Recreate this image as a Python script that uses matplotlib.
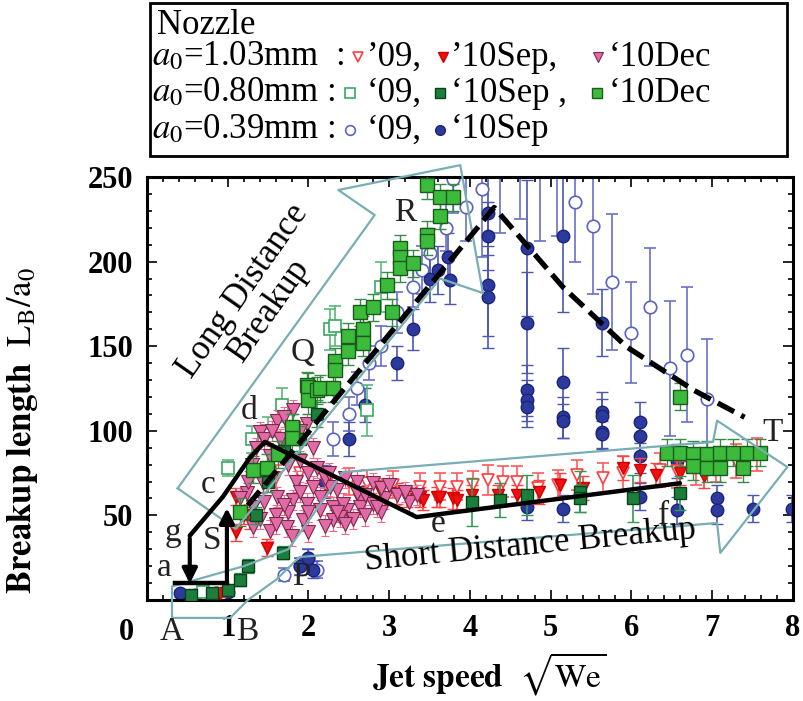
import numpy as np
import matplotlib
matplotlib.use("Agg")
import matplotlib.pyplot as plt
from matplotlib.ticker import MultipleLocator
from matplotlib.patches import Rectangle

plt.rcParams['font.family'] = ['Liberation Serif', 'DejaVu Serif']
plt.rcParams['mathtext.fontset'] = 'stix'

# ---- data (x = sqrt(We), y = L_B/a_0) ----
# a0=1.03mm '09 (open red down triangles)
x_103_09 = [1.6, 1.9, 2.23, 2.5, 2.72, 3.05, 3.38, 3.63, 3.84, 4.04, 4.22, 4.41, 4.58, 4.84,
            5.09, 5.32, 5.65, 5.9, 6.35, 6.56, 6.8, 7.05, 7.3, 7.55]
y_103_09 = [72, 75, 69, 70, 69, 68, 67, 67, 67, 68, 71, 70, 70, 66,
            68, 74, 72, 75, 77, 76, 78, 80, 82, 86]
e_103_09 = [8, 8, 8, 8, 8, 8, 8, 8, 8, 8, 9, 9, 9, 9,
            9, 9, 9, 10, 10, 10, 10, 10, 10, 10]

# a0=1.03mm '10Sep (red filled down triangles)
x_103_sep = [0.9, 1.1, 1.2, 1.28, 1.1, 1.49, 2.89, 3.1, 3.22, 3.38, 3.42, 3.59, 3.63, 3.79,
             3.84, 4.02, 4.35, 4.58, 4.85, 5.11, 5.4, 5.9, 6.1, 6.3, 6.6, 6.9]
y_103_sep = [4, 40, 50, 47, 61, 31, 65, 63, 61, 61, 59, 61, 61, 60,
             59, 62, 62, 62, 64, 68, 66, 78, 77, 74, 75, 73]
e_103_sep = [2, 5, 5, 5, 5, 5, 6, 6, 6, 6, 6, 6, 6, 6,
             6, 6, 6, 6, 7, 7, 7, 7, 7, 7, 7, 7]

# a0=1.03mm '10Dec (pink down triangles)
x_103_dec = [1.4, 1.61, 1.81, 1.98, 1.52, 1.7, 1.44, 1.61, 1.81, 1.98, 2.14, 2.3, 2.48, 2.64,
             2.8, 2.14, 2.35, 2.6, 2.8, 1.31, 1.31, 1.52, 1.73, 1.93, 2.3, 2.55, 1.24, 1.15,
             2.27, 2.43, 2.64, 2.39, 2.0, 1.85, 2.2, 2.95, 3.1, 3.25, 1.6, 1.75, 1.5, 1.3,
             1.9, 2.05, 2.7, 1.35, 1.65,
             1.45, 1.55, 1.7, 1.9, 2.05, 1.75, 1.55, 1.9, 2.1, 2.25, 2.45, 2.6, 2.9, 3.0,
             3.2, 3.35, 1.4, 1.6, 1.8, 2.0, 2.2, 2.45, 2.7, 2.9, 1.25, 1.45, 1.7, 2.0,
             2.35, 2.85]
y_103_dec = [99, 106, 112, 104, 85, 90, 69, 61, 59, 57, 53, 55, 53, 59,
             57, 61, 65, 63, 69, 55, 43, 41, 43, 47, 47, 48, 63, 60,
             67, 57, 55, 49, 75, 70, 72, 60, 62, 58, 50, 52, 75, 80,
             64, 67, 62, 90, 95,
             95, 100, 108, 100, 90, 80, 72, 82, 78, 75, 72, 70, 66, 68,
             64, 62, 48, 45, 38, 40, 44, 45, 50, 52, 70, 58, 56, 52,
             52, 55]

# a0=0.80mm '09 (open green squares)
x_080_09 = [0.7, 1.0, 1.3, 1.5, 1.67, 2.27, 2.33, 2.72, 2.9]
y_080_09 = [5, 78, 95, 100, 115, 160, 162, 112, 185]
e_080_09 = [3, 5, 8, 8, 10, 12, 12, 15, 15]

# a0=0.80mm '10Sep (dark green squares)
x_080_sep = [0.55, 0.8, 1.0, 1.15, 1.25, 1.35, 1.5, 1.68, 1.7, 1.81, 1.9, 2.1,
             4.02, 4.37, 4.71, 5.36, 5.36, 6.02, 6.6]
y_080_sep = [3, 4, 6, 12, 20, 50, 70, 28, 88, 102, 95, 110,
             58, 59, 62, 64, 60, 60, 63]
e_080_sep = [2, 2, 3, 4, 4, 5, 6, 4, 6, 8, 8, 8,
             14, 10, 12, 12, 8, 14, 10]

# a0=0.80mm '10Dec (light green squares)
x_080_dec = [1.15, 1.31, 1.49, 1.62, 1.8, 1.8, 1.98, 1.99, 1.99, 2.1, 2.14, 2.3, 2.33, 2.33,
             2.49, 2.49, 2.64, 2.67, 2.67, 2.8, 2.97, 3.03, 3.13, 3.13, 3.13, 3.29, 3.47, 3.47,
             3.47, 3.63, 3.63, 3.79, 6.44, 6.6, 6.76, 6.93, 7.1, 7.26, 7.43, 7.59, 6.76, 6.93,
             7.1, 7.38, 6.6]
y_080_dec = [52, 77, 78, 86, 102, 96, 127, 126, 118, 124, 125, 125, 141, 136,
             156, 147, 170, 160, 152, 173, 186, 170, 208, 203, 196, 199, 245, 216,
             212, 238, 227, 238, 87, 87, 86, 86, 87, 87, 87, 87, 79, 78,
             78, 78, 120]

# a0=0.39mm '09 (open blue circles)
x_039_09 = [1.7, 1.9, 2.0, 2.1, 2.3, 2.5, 2.6, 2.75, 2.9, 3.1, 3.3, 3.4, 3.5, 3.7,
            3.79, 3.95, 4.15, 4.37, 4.62, 4.87, 5.08, 5.3, 5.52, 5.76, 6.0, 6.23, 6.48, 6.69, 6.93]
y_039_09 = [15, 20, 25, 18, 95, 110, 125, 140, 150, 170, 185, 195, 205, 220,
            249, 232, 243, 262, 265, 262, 270, 235, 221, 188, 158, 173, 137, 145, 119]
e_039_09 = [4, 5, 5, 5, 10, 10, 10, 10, 12, 12, 12, 14, 14, 14,
            20, 20, 40, 45, 40, 50, 55, 35, 40, 40, 30, 35, 40, 40, 35]

# a0=0.39mm '10Sep (blue filled circles)
x_039_sep = [0.41, 0.6, 0.85, 1.0, 1.9, 2.0, 2.05, 2.2, 2.5, 2.7, 3.1, 3.3, 3.5, 3.6,
             3.73, 3.75, 4.22, 4.22, 4.22, 4.22, 4.71, 4.71, 4.71, 4.71, 4.71, 4.71,
             5.15, 5.15, 5.15, 5.15, 5.15, 5.64, 5.64, 5.64, 5.64, 5.64,
             6.1, 6.1, 6.1, 6.1, 6.56, 6.56, 7.06, 7.06, 7.5, 7.99]
y_039_sep = [4, 3, 4, 5, 20, 25, 18, 70, 95, 115, 140, 160, 190, 195,
             203, 189, 229, 215, 186, 179, 208, 164, 124, 118, 114, 55,
             215, 129, 108, 106, 54, 164, 111, 99, 109, 98,
             105, 97, 61, 85, 53, 82, 60, 53, 54, 54]
e_039_sep = [2, 2, 2, 2, 5, 5, 5, 10, 10, 10, 10, 12, 14, 14,
             14, 14, 25, 20, 30, 30, 40, 30, 15, 12, 12, 8,
             45, 20, 12, 10, 8, 20, 12, 10, 10, 8,
             12, 10, 8, 10, 8, 10, 8, 8, 8, 8]

# guide lines (black) and regime arrows (teal outline)
path_x = [0.53, 0.94, 1.28, 1.46, 3.34, 6.6]
path_y = [38, 61, 84.5, 93.4, 49, 69]
dash_x = [1.25, 4.3, 5.15, 5.94, 6.77, 7.4]
dash_y = [56, 232, 185, 149.6, 124, 108]
long_x = [0.38, 2.82, 2.37, 3.88, 4.16, 3.63, 1.1, 0.38]
long_y = [66, 227.5, 242.3, 257, 181.4, 190, 42, 66]
short_x = [2.43, 7.01, 7.06, 7.93, 7.1, 7.06, 1.89, 1.6, 1.25, 1.03, 0.31, 0.31, 1.2, 1.75, 2.43]
short_y = [75.6, 93.4, 106, 78.6, 27.8, 45.5, 25.4, 12, 0, -10.6, -10.6, 8, 20, 30, 75.6]

fig = plt.figure(figsize=(8.04, 7.01), dpi=100)
ax = fig.add_axes([0.1828, 0.1441, 0.8035, 0.6034])

teal = '#78aeb4'
cap = 4

ax.errorbar(x_039_09, y_039_09, yerr=e_039_09, fmt='o', ms=9, mfc='white', mec='#5b62c4',
            mew=1.2, ecolor='#6a70c8', elinewidth=1.2, capsize=cap, zorder=2)
ax.errorbar(x_039_sep, y_039_sep, yerr=e_039_sep, fmt='o', ms=9, mfc='#2c3a9e', mec='#1c2478',
            ecolor='#4a56b0', elinewidth=1.2, capsize=cap, zorder=2)
ax.errorbar(x_080_09, y_080_09, yerr=e_080_09, fmt='s', ms=9, mfc='white', mec='#3aa860',
            mew=1.2, ecolor='#5bb879', elinewidth=1.2, capsize=cap, zorder=3)
ax.errorbar(x_103_09, y_103_09, yerr=e_103_09, fmt='v', ms=9, mfc='white', mec='#ff3d3d',
            mew=1.2, ecolor='#ff5a5a', elinewidth=1.2, capsize=cap, zorder=3)
ax.errorbar(x_103_sep, y_103_sep, yerr=e_103_sep, fmt='v', ms=9, mfc='#f01010', mec='#d00000',
            ecolor='#ff4040', elinewidth=1.2, capsize=cap, zorder=3)
ax.errorbar(x_103_dec, y_103_dec, yerr=6, fmt='v', ms=10, mfc='#e26aa6', mec='#7a2a4a', mew=0.8,
            ecolor='#f06a8a', elinewidth=0.9, capsize=3, zorder=4)
ax.errorbar(x_080_sep, y_080_sep, yerr=e_080_sep, fmt='s', ms=9, mfc='#1b7f3b', mec='#0c3f1c',
            ecolor='#2e9a55', elinewidth=1.2, capsize=cap, zorder=5)
ax.errorbar(x_080_dec, y_080_dec, yerr=8, fmt='s', ms=10, mfc='#3cba3c', mec='#1a5a1a',
            ecolor='#3a8a4a', elinewidth=1.0, capsize=cap, zorder=5)

# regime arrows
ax.plot(long_x, long_y, color=teal, lw=1.6, clip_on=False, zorder=6)
ax.plot(short_x, short_y, color=teal, lw=1.6, clip_on=False, zorder=6)

# transition paths
ax.plot(path_x, path_y, color='black', lw=3.2, solid_capstyle='round', zorder=7)
ax.plot(dash_x, dash_y, color='black', lw=3.8, dashes=(3.5, 1.5), zorder=7)
ax.plot([0.35, 0.99], [10, 10], color='black', lw=3.2, zorder=7)
ax.annotate('', xy=(0.53, 8), xytext=(0.53, 38),
            arrowprops=dict(arrowstyle='-|>', color='black', lw=3.0, mutation_scale=22), zorder=7)
ax.annotate('', xy=(0.99, 56), xytext=(0.99, 10),
            arrowprops=dict(arrowstyle='-|>', color='black', lw=3.0, mutation_scale=22), zorder=7)

# labels on the plot
lab = dict(fontsize=24, color='#222222', zorder=8, ha='center', va='center')
ax.text(3.2, 229, 'R', **lab)
ax.text(1.93, 146, 'Q', **lab)
ax.text(1.27, 112, 'd', **lab)
ax.text(0.76, 68, 'c', **lab)
ax.text(0.32, 40, 'g', **lab)
ax.text(0.8, 35, 'S', **lab)
ax.text(0.22, 19, 'a', **lab)
ax.text(1.91, 14, 'P', **lab)
ax.text(3.6, 45, 'e', **lab)
ax.text(6.4, 50, 'f', **lab)
ax.text(7.75, 99, 'T', **lab)
ax.text(0.31, -19, 'A', clip_on=False, **lab)
ax.text(1.24, -19, 'B', clip_on=False, **lab)
ax.text(1.35, 177, 'Long Distance\nBreakup', fontsize=25, rotation=55, ha='center', va='center',
        linespacing=1.0, zorder=8)
ax.text(4.75, 32, 'Short Distance Breakup', fontsize=25, rotation=5.5, ha='center', va='center',
        zorder=8)

ax.set_xlim(0, 8)
ax.set_ylim(0, 250)
ax.xaxis.set_major_locator(MultipleLocator(1))
ax.xaxis.set_minor_locator(MultipleLocator(0.2))
ax.yaxis.set_major_locator(MultipleLocator(50))
ax.yaxis.set_minor_locator(MultipleLocator(10))
ax.set_xticks([1, 2, 3, 4, 5, 6, 7, 8])
ax.set_yticks([50, 100, 150, 200, 250])
ax.tick_params(which='both', direction='in', top=True, right=True, width=1.2)
ax.tick_params(which='major', length=7, labelsize=22, pad=10)
ax.tick_params(which='minor', length=3.5)
for t in ax.get_xticklabels() + ax.get_yticklabels():
    t.set_fontweight('bold')
ax.text(-0.25, -19, '0', fontsize=22, fontweight='bold', ha='center', va='center', clip_on=False)
for s in ax.spines.values():
    s.set_linewidth(2.2)

ax.set_xlabel(r'$\mathbf{Jet\ speed}$  $\sqrt{\mathrm{We}}$', fontsize=24)
ax.set_ylabel(r'$\mathbf{Breakup\ length}$  $\mathrm{L_B/a_0}$', fontsize=25)
ax.xaxis.set_label_coords(0.53, -0.12)
ax.yaxis.set_label_coords(-0.165, 0.40)

# legend box drawn in pixel coordinates on an overlay
ov = fig.add_axes([0, 0, 1, 1])
ov.set_xlim(0, 804)
ov.set_ylim(701, 0)
ov.axis('off')
ov.add_patch(Rectangle((150, 3), 637, 153, fill=False, lw=2.0, edgecolor='black'))
fs = 25
ov.text(157, 26, 'Nozzle', fontsize=fs, va='center')
rows = [57, 93, 130]
ov.text(152, rows[0], r'$a_0$=1.03mm  :', fontsize=fs, va='center')
ov.text(152, rows[1], r'$a_0$=0.80mm :', fontsize=fs, va='center')
ov.text(152, rows[2], r'$a_0$=0.39mm :', fontsize=fs, va='center')
ov.plot(358, rows[0], 'v', ms=7, mfc='white', mec='#ff3d3d', mew=1.2)
ov.text(367, rows[0], '\u201909,', fontsize=fs, va='center')
ov.plot(443, rows[0], 'v', ms=7, mfc='#f01010', mec='#d00000')
ov.text(451, rows[0], '\u201910Sep,', fontsize=fs, va='center')
ov.plot(598, rows[0], 'v', ms=7, mfc='#e26aa6', mec='#7a2a4a', mew=0.8)
ov.text(609, rows[0], '\u201810Dec', fontsize=fs, va='center')
ov.plot(350, rows[1], 's', ms=7, mfc='white', mec='#3aa860', mew=1.2)
ov.text(367, rows[1], '\u201809,', fontsize=fs, va='center')
ov.plot(440, rows[1], 's', ms=7, mfc='#1b7f3b', mec='#0c3f1c')
ov.text(451, rows[1], '\u201810Sep ,', fontsize=fs, va='center')
ov.plot(597, rows[1], 's', ms=7, mfc='#3cba3c', mec='#1a5a1a')
ov.text(609, rows[1], '\u201810Dec', fontsize=fs, va='center')
ov.plot(350, rows[2], 'o', ms=7, mfc='white', mec='#5b62c4', mew=1.2)
ov.text(367, rows[2], '\u201809,', fontsize=fs, va='center')
ov.plot(440, rows[2], 'o', ms=7, mfc='#2c3a9e', mec='#1c2478')
ov.text(451, rows[2], '\u201810Sep', fontsize=fs, va='center')

fig.savefig('out.png', dpi=100)
